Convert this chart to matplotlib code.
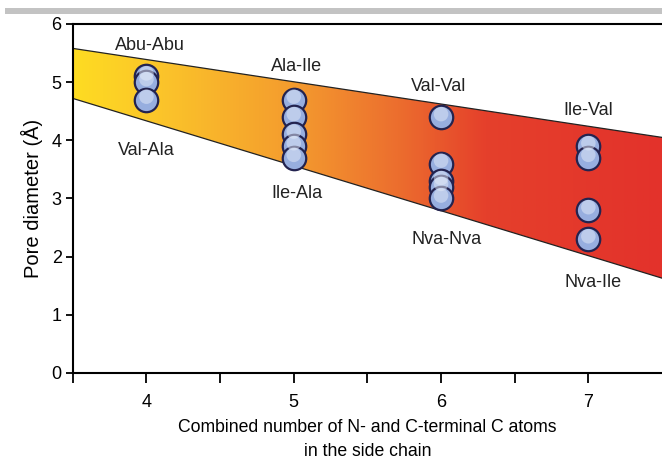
import numpy as np
import matplotlib.pyplot as plt
from matplotlib.colors import LinearSegmentedColormap
from matplotlib.patches import Polygon, Rectangle

plt.rcParams['font.family'] = ['Liberation Sans', 'DejaVu Sans']

# band edges (upper / lower boundary lines)
band_x = [3.5, 7.5]
band_upper = [5.58, 4.05]
band_lower = [4.72, 1.63]

# pore diameters per carbon count
xs = [4, 4, 4,
      5, 5, 5, 5, 5,
      6, 6, 6, 6, 6,
      7, 7, 7, 7]
ys = [5.1, 5.0, 4.7,
      4.7, 4.4, 4.1, 3.9, 3.7,
      4.4, 3.6, 3.3, 3.2, 3.0,
      3.9, 3.7, 2.8, 2.3]

labels = ["Abu-Abu", "Val-Ala", "Ala-Ile", "Ile-Ala",
          "Val-Val", "Nva-Nva", "Ile-Val", "Nva-Ile"]
label_x = [4.02, 4.0, 5.02, 5.02, 5.98, 6.04, 7.0, 7.03]
label_y = [5.63, 3.83, 5.27, 3.09, 4.93, 2.29, 4.52, 1.55]

fig = plt.figure(figsize=(6.62, 4.61), dpi=100)
ax = fig.add_axes([0.110, 0.191, 0.890, 0.757])

# grey strip at the top
fig.patches.append(Rectangle((5 / 662, 1 - 14 / 461), 1, 6 / 461,
                             transform=fig.transFigure, color='#c3c3c3', lw=0))

cmap = LinearSegmentedColormap.from_list('band', [
    (0.0, '#fedc22'), (0.15, '#fbc42a'), (0.38, '#f49a2e'),
    (0.55, '#ec6e2e'), (0.70, '#e5402b'), (1.0, '#e3322b')])
grad = np.linspace(0, 1, 256).reshape(1, -1)
im = ax.imshow(grad, cmap=cmap, aspect='auto',
               extent=[band_x[0], band_x[1], 0, 6], zorder=1)
poly = Polygon(list(zip(band_x, band_upper)) + list(zip(band_x[::-1], band_lower[::-1])),
               closed=True, transform=ax.transData, facecolor='none', edgecolor='none')
ax.add_patch(poly)
im.set_clip_path(poly)
ax.plot(band_x, band_upper, color='#222222', lw=0.9, zorder=2)
ax.plot(band_x, band_lower, color='#222222', lw=0.9, zorder=2)

ax.scatter(xs, ys, s=285, facecolor='#97aedf', edgecolor='#23234f', linewidth=1.6, zorder=3)
ax.scatter(xs, [y + 0.05 for y in ys], s=110, facecolor='#e3eaf8', edgecolor='none',
           alpha=0.5, zorder=4)

for t, lx, ly in zip(labels, label_x, label_y):
    ax.text(lx, ly, t, ha='center', va='center', fontsize=13, color='#222222', zorder=5)

ax.set_xlim(3.5, 7.5)
ax.set_ylim(0, 6)
ax.set_xticks([4, 5, 6, 7])
ax.set_xticks([3.5, 4.5, 5.5, 6.5], minor=True)
ax.set_yticks(range(7))
ax.tick_params(axis='x', which='both', direction='out', length=7, width=1.3, labelsize=13, pad=8)
ax.tick_params(axis='y', direction='out', length=5, width=1.3, labelsize=13, pad=3)
for s in ['left', 'bottom', 'top']:
    ax.spines[s].set_linewidth(1.5)
ax.spines['right'].set_visible(False)

ax.set_ylabel('Pore diameter (Å)', fontsize=14.5, labelpad=6)
ax.set_xlabel('Combined number of N- and C-terminal C atoms\nin the side chain',
              fontsize=12.7, labelpad=6, linespacing=1.5)

fig.savefig('out.png', dpi=100)
